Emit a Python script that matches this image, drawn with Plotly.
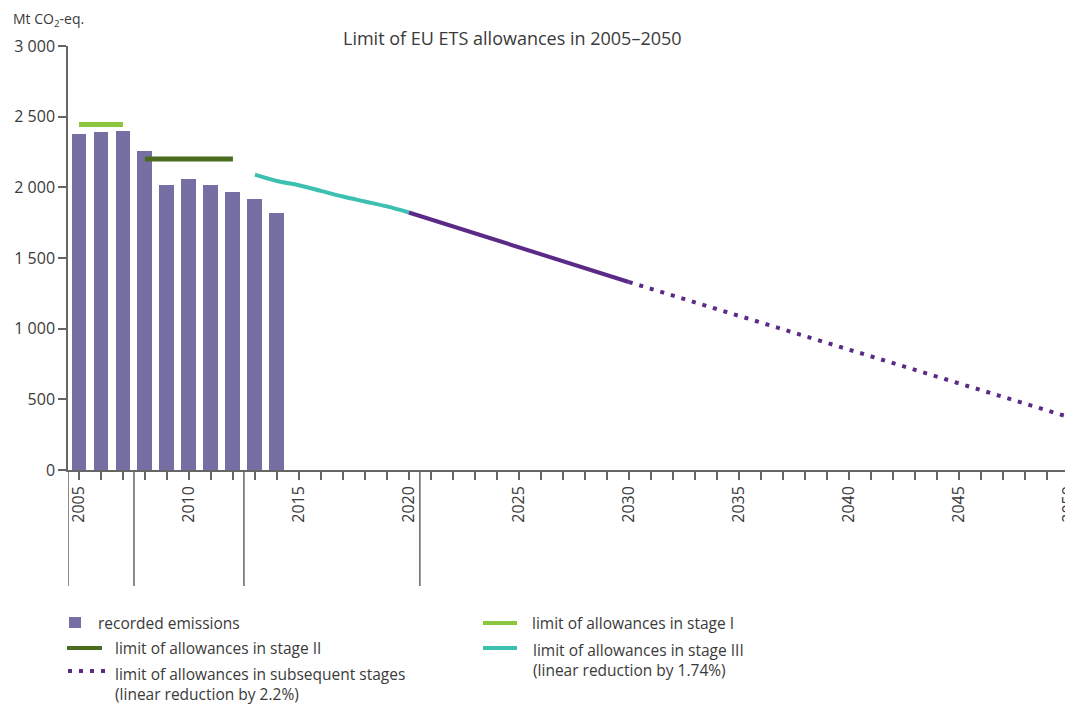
import plotly.graph_objects as go

# ---- data ----
years_emis = [2005, 2006, 2007, 2008, 2009, 2010, 2011, 2012, 2013, 2014]
emissions = [2380, 2390, 2400, 2260, 2015, 2060, 2015, 1970, 1915, 1815]

stage1_years = [2005, 2006, 2007]
stage1_vals = [2445, 2445, 2445]

stage2_years = [2008, 2009, 2010, 2011, 2012]
stage2_vals = [2200, 2200, 2200, 2200, 2200]

stage3_years = [2013, 2014, 2015, 2016, 2017, 2018, 2019, 2020]
stage3_vals = [2090, 2045, 2015, 1975, 1935, 1900, 1865, 1822]

later_solid_years = [2020, 2030]
later_solid_vals = [1822, 1330]

later_dot_years = [2030, 2050]
later_dot_vals = [1330, 375]

y_tickvals = [0, 500, 1000, 1500, 2000, 2500, 3000]
y_ticktext = ["0", "500", "1 000", "1 500", "2 000", "2 500", "3 000"]

period_bounds = [2004.5, 2007.5, 2012.5, 2020.5]

# ---- colours ----
C_BAR = "#756fa3"
C_S1 = "#8cc63f"
C_S2 = "#4b6b1f"
C_S3 = "#3cc1b1"
C_LATER = "#5b2a86"
C_AXIS = "#666666"
C_TEXT = "#3a3a3a"
FONT = "Open Sans"

# page body has an 8px margin: figure coords = screen coords - 8
OFF = 8
W, H = 1073 - OFF, 704 - OFF
ML = 68 - OFF
MT = 46 - OFF
MB = H - (470 - OFF)
MR = 0
PW, PH = W - ML - MR, H - MT - MB


def px(xs):
    return (xs - OFF - ML) / PW


def py(ys):
    return (H - MB - (ys - OFF)) / PH


fig = go.Figure()
fig.add_trace(go.Bar(x=years_emis, y=emissions, width=0.68,
                     marker=dict(color=C_BAR, line=dict(width=0)),
                     name="recorded emissions", showlegend=False))
fig.add_trace(go.Scatter(x=stage1_years, y=stage1_vals, mode="lines",
                         line=dict(color=C_S1, width=5), showlegend=False))
fig.add_trace(go.Scatter(x=stage2_years, y=stage2_vals, mode="lines",
                         line=dict(color=C_S2, width=5), showlegend=False))
fig.add_trace(go.Scatter(x=stage3_years, y=stage3_vals, mode="lines",
                         line=dict(color=C_S3, width=4, shape="spline"), showlegend=False))
fig.add_trace(go.Scatter(x=later_solid_years, y=later_solid_vals, mode="lines",
                         line=dict(color=C_LATER, width=4), showlegend=False))
fig.add_trace(go.Scatter(x=later_dot_years, y=later_dot_vals, mode="lines",
                         line=dict(color=C_LATER, width=4, dash="4px,7px"), showlegend=False))

shapes = []
for b in period_bounds:
    shapes.append(dict(type="line", xref="x", yref="paper", x0=b, x1=b,
                       y0=py(586), y1=0, line=dict(color=C_AXIS, width=1.5)))

# legend symbols
shapes.append(dict(type="rect", xref="paper", yref="paper",
                   x0=px(69), x1=px(81), y0=py(628), y1=py(617),
                   fillcolor=C_BAR, line=dict(width=0)))
shapes.append(dict(type="line", xref="paper", yref="paper",
                   x0=px(67), x1=px(102), y0=py(648), y1=py(648),
                   line=dict(color=C_S2, width=4)))
shapes.append(dict(type="line", xref="paper", yref="paper",
                   x0=px(68), x1=px(105), y0=py(671), y1=py(671),
                   line=dict(color=C_LATER, width=4, dash="4px,7px")))
shapes.append(dict(type="line", xref="paper", yref="paper",
                   x0=px(483), x1=px(517), y0=py(623), y1=py(623),
                   line=dict(color=C_S1, width=4)))
shapes.append(dict(type="line", xref="paper", yref="paper",
                   x0=px(483), x1=px(517), y0=py(648), y1=py(648),
                   line=dict(color=C_S3, width=4)))

lf = dict(family=FONT, size=15.5, color=C_TEXT)
annotations = [
    dict(text="Mt CO<sub>2</sub>-eq.", xref="paper", yref="paper",
         x=px(11), y=py(19), xanchor="left", yanchor="middle", showarrow=False,
         font=dict(family=FONT, size=14, color=C_TEXT)),
    dict(text="Limit of EU ETS allowances in 2005\u20132050", xref="paper", yref="paper",
         x=px(512), y=py(38), xanchor="center", yanchor="middle", showarrow=False,
         font=dict(family=FONT, size=18, color=C_TEXT)),
    dict(text="recorded emissions", xref="paper", yref="paper",
         x=px(96), y=py(623), xanchor="left", yanchor="middle", showarrow=False, font=lf),
    dict(text="limit of allowances in stage II", xref="paper", yref="paper",
         x=px(113), y=py(648), xanchor="left", yanchor="middle", showarrow=False, font=lf),
    dict(text="limit of allowances in subsequent stages<br>(linear reduction by 2.2%)",
         xref="paper", yref="paper", align="left",
         x=px(113), y=py(661), xanchor="left", yanchor="top", showarrow=False, font=lf),
    dict(text="limit of allowances in stage I", xref="paper", yref="paper",
         x=px(530), y=py(623), xanchor="left", yanchor="middle", showarrow=False, font=lf),
    dict(text="limit of allowances in stage III<br>(linear reduction by 1.74%)",
         xref="paper", yref="paper", align="left",
         x=px(531), y=py(637), xanchor="left", yanchor="top", showarrow=False, font=lf),
]

fig.update_layout(
    width=W, height=H,
    margin=dict(l=ML, r=MR, t=MT, b=MB, autoexpand=False),
    plot_bgcolor="white", paper_bgcolor="white",
    showlegend=False, bargap=0,
    shapes=shapes, annotations=annotations,
    font=dict(family=FONT, color=C_TEXT),
    xaxis=dict(range=[2004.5, 2050.2], showgrid=False, zeroline=False,
               showline=True, linecolor=C_AXIS, linewidth=1.5,
               tick0=2005, dtick=5, ticks="outside", ticklen=8, tickwidth=1.5,
               tickcolor=C_AXIS, tickangle=-90, ticklabeloverflow="allow",
               tickfont=dict(family=FONT, size=16, color=C_TEXT),
               minor=dict(dtick=1, tick0=2005, ticks="outside", ticklen=8,
                          tickwidth=1.5, tickcolor=C_AXIS, showgrid=False),
               automargin=False),
    yaxis=dict(range=[0, 3000], showgrid=False, zeroline=False,
               showline=True, linecolor=C_AXIS, linewidth=1.5,
               tickvals=y_tickvals, ticktext=y_ticktext,
               ticks="outside", ticklen=8, tickwidth=1.5, tickcolor=C_AXIS,
               tickfont=dict(family=FONT, size=16, color=C_TEXT),
               automargin=False),
)

fig.write_html("out.html")
